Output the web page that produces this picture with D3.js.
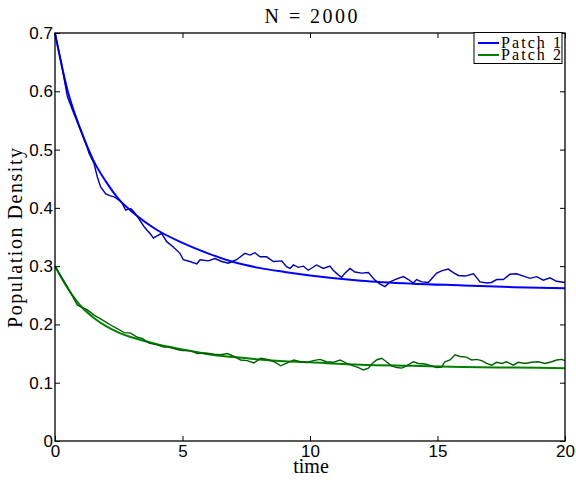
<!DOCTYPE html>
<html>
<head>
<meta charset="utf-8">
<script src="https://cdn.jsdelivr.net/npm/d3@7"></script>
<style>
  body { margin: 0; background: #fff; }
  .tick text { font-family: "Liberation Sans", Arial, sans-serif; font-size: 17px; fill: #000; }
  .serif { font-family: "Liberation Serif", "Times New Roman", serif; fill: #000; }
</style>
</head>
<body>
<script>
// N = 2000 : two patches, smooth model vs one simulated run

var fitTime = [0, 0.5, 1, 1.5, 2, 2.5, 3, 4, 5, 6, 7, 8, 9, 10, 12, 14, 16, 18, 20];
var patch1Fit = [0.700, 0.600, 0.535, 0.482, 0.445, 0.415, 0.394, 0.362, 0.340, 0.322, 0.307, 0.297, 0.290, 0.284, 0.275, 0.270, 0.267, 0.264, 0.262];
var patch2Fit = [0.300, 0.262, 0.232, 0.212, 0.197, 0.186, 0.178, 0.166, 0.157, 0.149, 0.144, 0.140, 0.137, 0.135, 0.131, 0.129, 0.127, 0.126, 0.125];

var sim1Time = [0, 0.25, 0.48, 0.7, 1.0, 1.27, 1.33, 1.53, 1.66, 1.79, 1.99, 2.15, 2.31, 2.51, 2.62, 2.77, 2.97, 3.1, 3.23, 3.49,
  3.6, 3.73, 3.86, 4.0, 4.18, 4.38, 4.64, 4.9, 5.03, 5.29, 5.56, 5.69, 6.01, 6.27, 6.54, 6.8, 7.12, 7.45, 7.65, 7.84,
  8.04, 8.3, 8.56, 8.89, 9.08, 9.22, 9.35, 9.54, 9.74, 9.93, 10.26, 10.52, 10.78, 10.91, 11.11, 11.24, 11.37, 11.57, 11.76, 12.03,
  12.29, 12.55, 12.75, 12.94, 13.14, 13.33, 13.66, 13.86, 14.05, 14.18, 14.38, 14.64, 14.97, 15.16, 15.42, 15.62, 15.82, 16.08, 16.41, 16.67,
  16.93, 17.12, 17.32, 17.58, 17.84, 18.1, 18.37, 18.63, 18.89, 19.15, 19.41, 19.67, 20];
var sim1 = [0.700, 0.648, 0.592, 0.566, 0.533, 0.503, 0.494, 0.476, 0.453, 0.436, 0.424, 0.421, 0.419, 0.413, 0.409, 0.396, 0.399, 0.393, 0.385, 0.368,
  0.362, 0.356, 0.348, 0.352, 0.356, 0.342, 0.333, 0.322, 0.311, 0.308, 0.304, 0.311, 0.309, 0.313, 0.308, 0.305, 0.311, 0.322, 0.319, 0.323,
  0.316, 0.316, 0.308, 0.309, 0.299, 0.296, 0.302, 0.298, 0.300, 0.293, 0.302, 0.296, 0.300, 0.293, 0.285, 0.281, 0.288, 0.296, 0.290, 0.288,
  0.289, 0.276, 0.269, 0.265, 0.273, 0.277, 0.282, 0.277, 0.271, 0.277, 0.273, 0.272, 0.288, 0.292, 0.295, 0.289, 0.284, 0.283, 0.287, 0.273,
  0.271, 0.272, 0.277, 0.277, 0.286, 0.287, 0.283, 0.279, 0.282, 0.276, 0.280, 0.274, 0.272];

var sim2Time = [0, 0.48, 0.88, 1.27, 1.53, 1.92, 2.18, 2.44, 2.71, 2.97, 3.23, 3.42, 3.69, 4.01, 4.27, 4.47, 4.8, 4.99, 5.32, 5.58,
  5.91, 6.24, 6.5, 6.76, 7.02, 7.28, 7.54, 7.8, 8.07, 8.33, 8.59, 8.85, 9.11, 9.37, 9.61, 9.87, 10.13, 10.39, 10.65, 10.91,
  11.18, 11.44, 11.7, 11.9, 12.09, 12.29, 12.42, 12.61, 12.81, 13.0, 13.2, 13.4, 13.6, 13.79, 14.05, 14.25, 14.51, 14.77, 14.97, 15.16,
  15.29, 15.49, 15.69, 15.88, 16.14, 16.34, 16.54, 16.73, 16.93, 17.12, 17.32, 17.52, 17.71, 17.97, 18.17, 18.43, 18.69, 18.95, 19.22, 19.48,
  19.67, 19.87, 20];
var sim2 = [0.300, 0.265, 0.233, 0.225, 0.216, 0.206, 0.199, 0.193, 0.186, 0.185, 0.178, 0.176, 0.168, 0.165, 0.161, 0.161, 0.157, 0.155, 0.155, 0.150,
  0.151, 0.149, 0.148, 0.150, 0.145, 0.139, 0.138, 0.134, 0.142, 0.140, 0.136, 0.129, 0.134, 0.139, 0.136, 0.135, 0.138, 0.140, 0.136, 0.135,
  0.139, 0.133, 0.129, 0.126, 0.122, 0.125, 0.132, 0.139, 0.142, 0.136, 0.129, 0.126, 0.125, 0.129, 0.136, 0.133, 0.132, 0.129, 0.126, 0.127,
  0.136, 0.139, 0.148, 0.145, 0.144, 0.139, 0.140, 0.138, 0.133, 0.130, 0.135, 0.133, 0.136, 0.130, 0.135, 0.133, 0.135, 0.136, 0.133, 0.136,
  0.139, 0.140, 0.138];

var xTicks = [0, 5, 10, 15, 20];
var yTicks = [0, 0.1, 0.2, 0.3, 0.4, 0.5, 0.6, 0.7];
var legendNames = ["Patch 1", "Patch 2"];

// plot box (window.top is taken, so prefixed names)
var boxL = 55, boxR = 565, boxT = 33, boxB = 441;

var svg = d3.select("body").append("svg")
  .attr("width", 576)
  .attr("height", 480);

var x = d3.scaleLinear().domain([0, 20]).range([boxL, boxR]);
var y = d3.scaleLinear().domain([0, 0.7]).range([boxB, boxT]);

var pairs = function (ts, vs) {
  return ts.map(function (t, i) { return [t, vs[i]]; });
};

var line = d3.line()
  .x(function (d) { return x(d[0]); })
  .y(function (d) { return y(d[1]); });

var smooth = d3.line()
  .curve(d3.curveMonotoneX)
  .x(function (d) { return x(d[0]); })
  .y(function (d) { return y(d[1]); });

// smooth model curves
svg.append("path").attr("d", smooth(pairs(fitTime, patch1Fit)))
  .attr("fill", "none").attr("stroke", "#0000ff").attr("stroke-width", 2);
svg.append("path").attr("d", smooth(pairs(fitTime, patch2Fit)))
  .attr("fill", "none").attr("stroke", "#008000").attr("stroke-width", 2);

// simulation runs
svg.append("path").attr("d", line(pairs(sim1Time, sim1)))
  .attr("fill", "none").attr("stroke", "#0000a8").attr("stroke-width", 1.4);
svg.append("path").attr("d", line(pairs(sim2Time, sim2)))
  .attr("fill", "none").attr("stroke", "#005f00").attr("stroke-width", 1.4);

// axes, ticks pointing in
svg.append("g").attr("transform", "translate(0," + boxB + ")")
  .call(d3.axisBottom(x).tickValues(xTicks).tickSize(-5).tickSizeOuter(0).tickPadding(4));
svg.append("g").attr("transform", "translate(0," + boxT + ")")
  .call(d3.axisTop(x).tickValues(xTicks).tickSize(-5).tickSizeOuter(0).tickFormat(""));
svg.append("g").attr("transform", "translate(" + boxL + ",0)")
  .call(d3.axisLeft(y).tickValues(yTicks).tickSize(-5).tickSizeOuter(0).tickPadding(2)
    .tickFormat(function (d) { return d === 0 ? "0" : d3.format(".1f")(d); }));
svg.append("g").attr("transform", "translate(" + boxR + ",0)")
  .call(d3.axisRight(y).tickValues(yTicks).tickSize(-5).tickSizeOuter(0).tickFormat(""));

svg.selectAll(".domain").attr("stroke", "none");
svg.selectAll(".tick line").attr("stroke", "#000");

svg.append("rect")
  .attr("x", boxL).attr("y", boxT)
  .attr("width", boxR - boxL).attr("height", boxB - boxT)
  .attr("fill", "none").attr("stroke", "#000").attr("stroke-width", 1.3);

// titles
svg.append("text").attr("class", "serif")
  .attr("x", 311).attr("y", 23)
  .attr("text-anchor", "middle").style("font-size", "20px")
  .attr("textLength", 93).attr("lengthAdjust", "spacing")
  .text("N = 2000");

svg.append("text").attr("class", "serif")
  .attr("x", 311).attr("y", 473)
  .attr("text-anchor", "middle").style("font-size", "20px")
  .text("time");

svg.append("text").attr("class", "serif")
  .attr("transform", "translate(22,238) rotate(-90)")
  .attr("text-anchor", "middle").style("font-size", "20px")
  .attr("textLength", 180).attr("lengthAdjust", "spacing")
  .text("Population Density");

// legend
var legend = svg.append("g");
legend.append("rect")
  .attr("x", 474).attr("y", 32.5).attr("width", 88).attr("height", 31)
  .attr("fill", "#fff").attr("stroke", "#000").attr("stroke-width", 1);

legend.selectAll("line.key")
  .data(legendNames)
  .enter()
  .append("line")
  .attr("x1", 478).attr("x2", 499)
  .attr("y1", function (d, i) { return 43 + i * 12; })
  .attr("y2", function (d, i) { return 43 + i * 12; })
  .attr("stroke", function (d, i) { return i === 0 ? "#0000ff" : "#008000"; })
  .attr("stroke-width", 2);

legend.selectAll("text.key")
  .data(legendNames)
  .enter()
  .append("text")
  .attr("class", "serif")
  .attr("x", 501)
  .attr("y", function (d, i) { return 48 + i * 12; })
  .style("font-size", "16px")
  .attr("textLength", 60).attr("lengthAdjust", "spacing")
  .text(function (d) { return d; });
</script>
</body>
</html>
